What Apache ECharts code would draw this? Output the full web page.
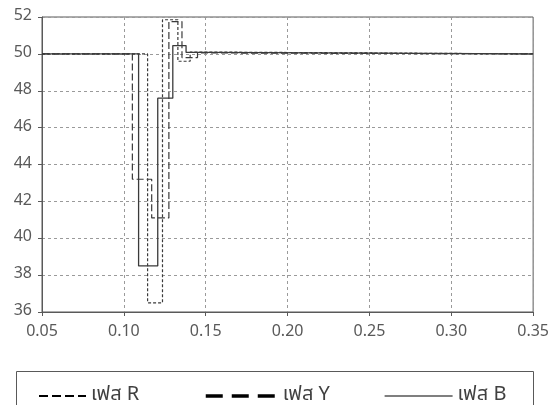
<!DOCTYPE html>
<html>
<head>
<meta charset="utf-8">
<script src="https://cdn.jsdelivr.net/npm/echarts@6/dist/echarts.min.js"></script>
<style>
  html, body { margin: 0; padding: 0; background: #fff; }
  #chart { width: 552px; height: 405px; }
</style>
</head>
<body>
<div id="chart"></div>
<script>
// Frequency (Hz) of each phase versus time (s); each value holds until the next time.
const timeR = [0.05, 0.1145, 0.1236, 0.1330, 0.1405, 0.150, 0.35];
const freqR = [50.0, 36.5, 51.85, 49.6, 50.1, 50.0, 50.0];

const timeY = [0.05, 0.1052, 0.1170, 0.1275, 0.1355, 0.145, 0.155, 0.35];
const freqY = [50.0, 43.2, 41.1, 51.75, 49.8, 50.05, 50.0, 50.0];

const timeB = [0.05, 0.1090, 0.1207, 0.1299, 0.1380, 0.148, 0.35];
const freqB = [50.0, 38.5, 47.6, 50.45, 50.08, 50.0, 50.0];

const seriesNames = ['เฟส R', 'เฟส Y', 'เฟส B'];
const xTicks = { min: 0.05, max: 0.35, step: 0.05 };
const yTicks = { min: 36, max: 52, step: 2 };

const pair = (ts, vs) => ts.map((t, i) => [t, vs[i]]);

const FONT = '"Noto Sans Thai", "Leelawadee UI", Tahoma, "Open Sans", "Noto Sans", sans-serif';
const INK = '#595959';
const LINE = '#3a3a3a';

const chart = echarts.init(document.getElementById('chart'), null, { renderer: 'canvas' });

// One legend block per series so each key can have its own length and offset.
function legendAt(name, left, width, lineStyle) {
  return {
    show: true,
    left: left,
    top: 386,
    padding: 0,
    itemWidth: width,
    itemHeight: 14,
    itemGap: 0,
    textStyle: { color: '#404040', fontSize: 20, fontFamily: FONT },
    data: [{ name: name, lineStyle: lineStyle, itemStyle: { opacity: 0, borderWidth: 0 } }],
    selectedMode: false
  };
}

chart.setOption({
  animation: false,
  backgroundColor: '#fff',
  grid: {
    left: 42, right: 17, top: 17, bottom: 93,
    show: true, borderColor: INK, borderWidth: 1
  },
  xAxis: {
    type: 'value',
    min: xTicks.min, max: xTicks.max, interval: xTicks.step,
    axisLine: { show: true, lineStyle: { color: INK, width: 1 } },
    axisTick: { show: true, length: 4, lineStyle: { color: INK } },
    axisLabel: {
      color: INK, fontSize: 16, fontFamily: FONT, margin: 13,
      formatter: v => v.toFixed(2)
    },
    splitLine: { show: true, lineStyle: { color: '#9a9a9a', type: [3, 3], width: 1 } }
  },
  yAxis: {
    type: 'value',
    min: yTicks.min, max: yTicks.max, interval: yTicks.step,
    axisLine: { show: true, lineStyle: { color: INK, width: 1 } },
    axisTick: { show: true, length: 4, lineStyle: { color: INK } },
    axisLabel: { color: INK, fontSize: 16, fontFamily: FONT, margin: 10 },
    splitLine: { show: true, lineStyle: { color: '#9a9a9a', type: [3, 3], width: 1 } }
  },
  legend: [
    legendAt(seriesNames[0], 38, 47, { color: '#000', width: 2, type: [9, 4] }),
    legendAt(seriesNames[1], 204, 72, { color: '#000', width: 3.5, type: [17, 9] }),
    legendAt(seriesNames[2], 384, 68, { color: '#000', width: 1.2, type: 'solid' })
  ],
  graphic: [{
    type: 'rect',
    shape: { x: 16.5, y: 371.5, width: 517, height: 60 },
    style: { fill: 'none', stroke: INK, lineWidth: 1 },
    silent: true
  }],
  series: [
    {
      name: seriesNames[0], type: 'line', step: 'end', symbol: 'none',
      data: pair(timeR, freqR),
      lineStyle: { color: LINE, width: 1.2, type: [3, 2] },
      itemStyle: { color: LINE }
    },
    {
      name: seriesNames[1], type: 'line', step: 'end', symbol: 'none',
      data: pair(timeY, freqY),
      lineStyle: { color: LINE, width: 1.2, type: [7, 3] },
      itemStyle: { color: LINE }
    },
    {
      name: seriesNames[2], type: 'line', step: 'end', symbol: 'none',
      data: pair(timeB, freqB),
      lineStyle: { color: LINE, width: 1.3, type: 'solid' },
      itemStyle: { color: LINE }
    }
  ]
});
</script>
</body>
</html>
